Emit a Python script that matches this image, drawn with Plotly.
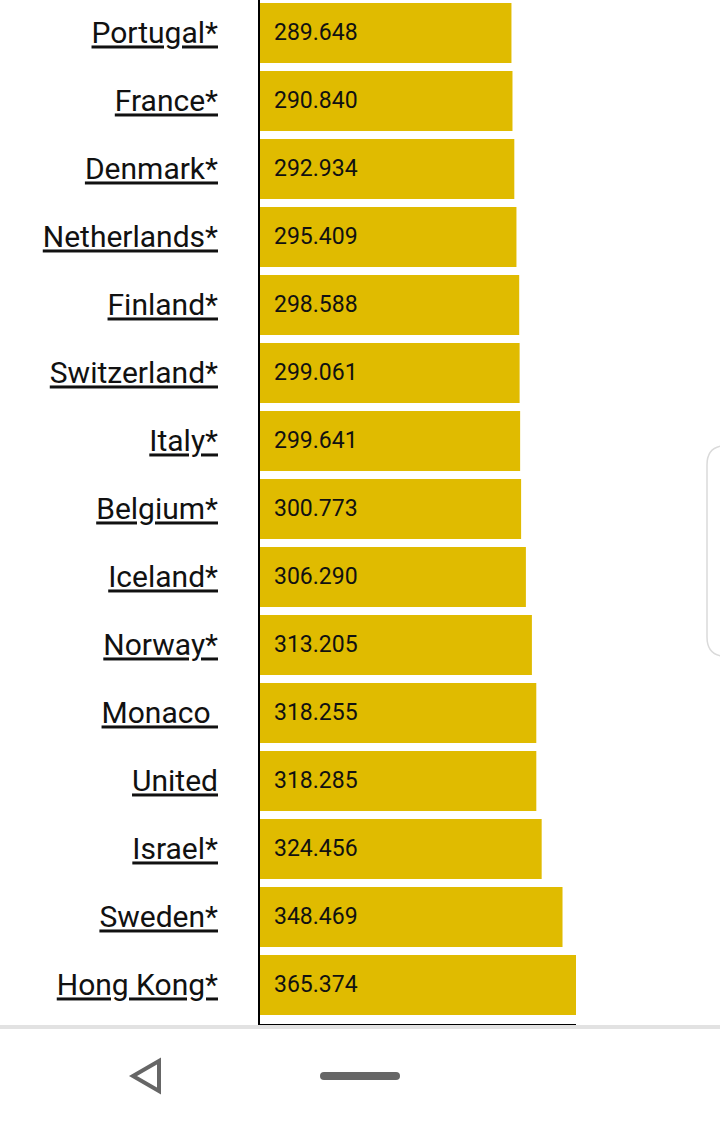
import plotly.graph_objects as go

# Data (top to bottom as shown)
countries = ["Portugal*", "France*", "Denmark*", "Netherlands*", "Finland*",
             "Switzerland*", "Italy*", "Belgium*", "Iceland*", "Norway*",
             "Monaco ", "United", "Israel*", "Sweden*", "Hong Kong*"]
values = [289.648, 290.840, 292.934, 295.409, 298.588,
          299.061, 299.641, 300.773, 306.290, 313.205,
          318.255, 318.285, 324.456, 348.469, 365.374]
x_ticks = [0, 182, 364]

BAR_COLOR = "#E0BB00"
FONT = "Roboto"

W, H = 720, 1124
L, R, T, B = 260, 144, 0, 100
PW, PH = W - L - R, H - T - B


def px(x):
    return (x - L) / PW


def py(y):
    return (H - B - y) / PH


fig = go.Figure()
fig.add_trace(go.Bar(
    x=values, y=list(range(len(countries))), orientation="h",
    marker=dict(color=BAR_COLOR, line=dict(width=0)),
    hoverinfo="skip", showlegend=False,
))

for i, v in enumerate(values):
    fig.add_annotation(x=0, y=i, xref="x", yref="y", text=f"{v:.3f}",
                       showarrow=False, xanchor="left", xshift=12,
                       font=dict(family=FONT, size=23, color="#111"))

fig.update_layout(
    width=W, height=H,
    margin=dict(l=L, r=R, t=T, b=B, pad=0),
    paper_bgcolor="white", plot_bgcolor="white",
    bargap=0.12,
    font=dict(family=FONT),
    xaxis=dict(range=[0, 364], tickvals=x_ticks, showticklabels=False,
               ticks="outside", ticklen=10, tickwidth=2, tickcolor="black",
               showline=True, linewidth=2, linecolor="black",
               showgrid=False, zeroline=False, fixedrange=True),
    yaxis=dict(range=[14.574, -0.485], tickmode="array",
               tickvals=list(range(len(countries))), ticktext=countries,
               ticks="", showline=True, linewidth=2, linecolor="black",
               showgrid=False, zeroline=False, ticklabelstandoff=34,
               tickfont=dict(family=FONT, size=30, color="#111",
                             lineposition="under")),
)

shapes = []
# bottom navigation bar
shapes.append(dict(type="rect", xref="paper", yref="paper",
                   x0=px(0), x1=px(720), y0=py(1124), y1=py(1026),
                   fillcolor="white", line=dict(width=0), layer="above"))
shapes.append(dict(type="rect", xref="paper", yref="paper",
                   x0=px(0), x1=px(720), y0=py(1029), y1=py(1025),
                   fillcolor="#E2E2E2", line=dict(width=0), layer="above"))
# back triangle
tri = (f"M {px(133)} {py(1076)} L {px(159)} {py(1061)} "
       f"L {px(159)} {py(1091)} Z")
shapes.append(dict(type="path", xref="paper", yref="paper", path=tri,
                   line=dict(color="#666", width=4), fillcolor="rgba(0,0,0,0)",
                   layer="above"))
# home pill (rounded ends)
pill = (f"M {px(324)} {py(1072)} L {px(396)} {py(1072)} "
        f"Q {px(400)} {py(1072)} {px(400)} {py(1076)} "
        f"Q {px(400)} {py(1080)} {px(396)} {py(1080)} "
        f"L {px(324)} {py(1080)} "
        f"Q {px(320)} {py(1080)} {px(320)} {py(1076)} "
        f"Q {px(320)} {py(1072)} {px(324)} {py(1072)} Z")
shapes.append(dict(type="path", xref="paper", yref="paper", path=pill,
                   fillcolor="#666", line=dict(width=0), layer="above"))
# right floating panel edge
shapes.append(dict(type="path", xref="paper", yref="paper",
                   path=(f"M {px(722)} {py(446)} Q {px(707)} {py(448)} {px(707)} {py(465)} "
                         f"L {px(707)} {py(637)} Q {px(707)} {py(654)} {px(722)} {py(656)}"),
                   line=dict(color="#DADADA", width=1.5), layer="above"))
fig.update_layout(shapes=shapes)

fig.write_html("out.html", config={"displayModeBar": False},
               post_script="document.body.style.margin='0';document.body.style.overflow='hidden';")
